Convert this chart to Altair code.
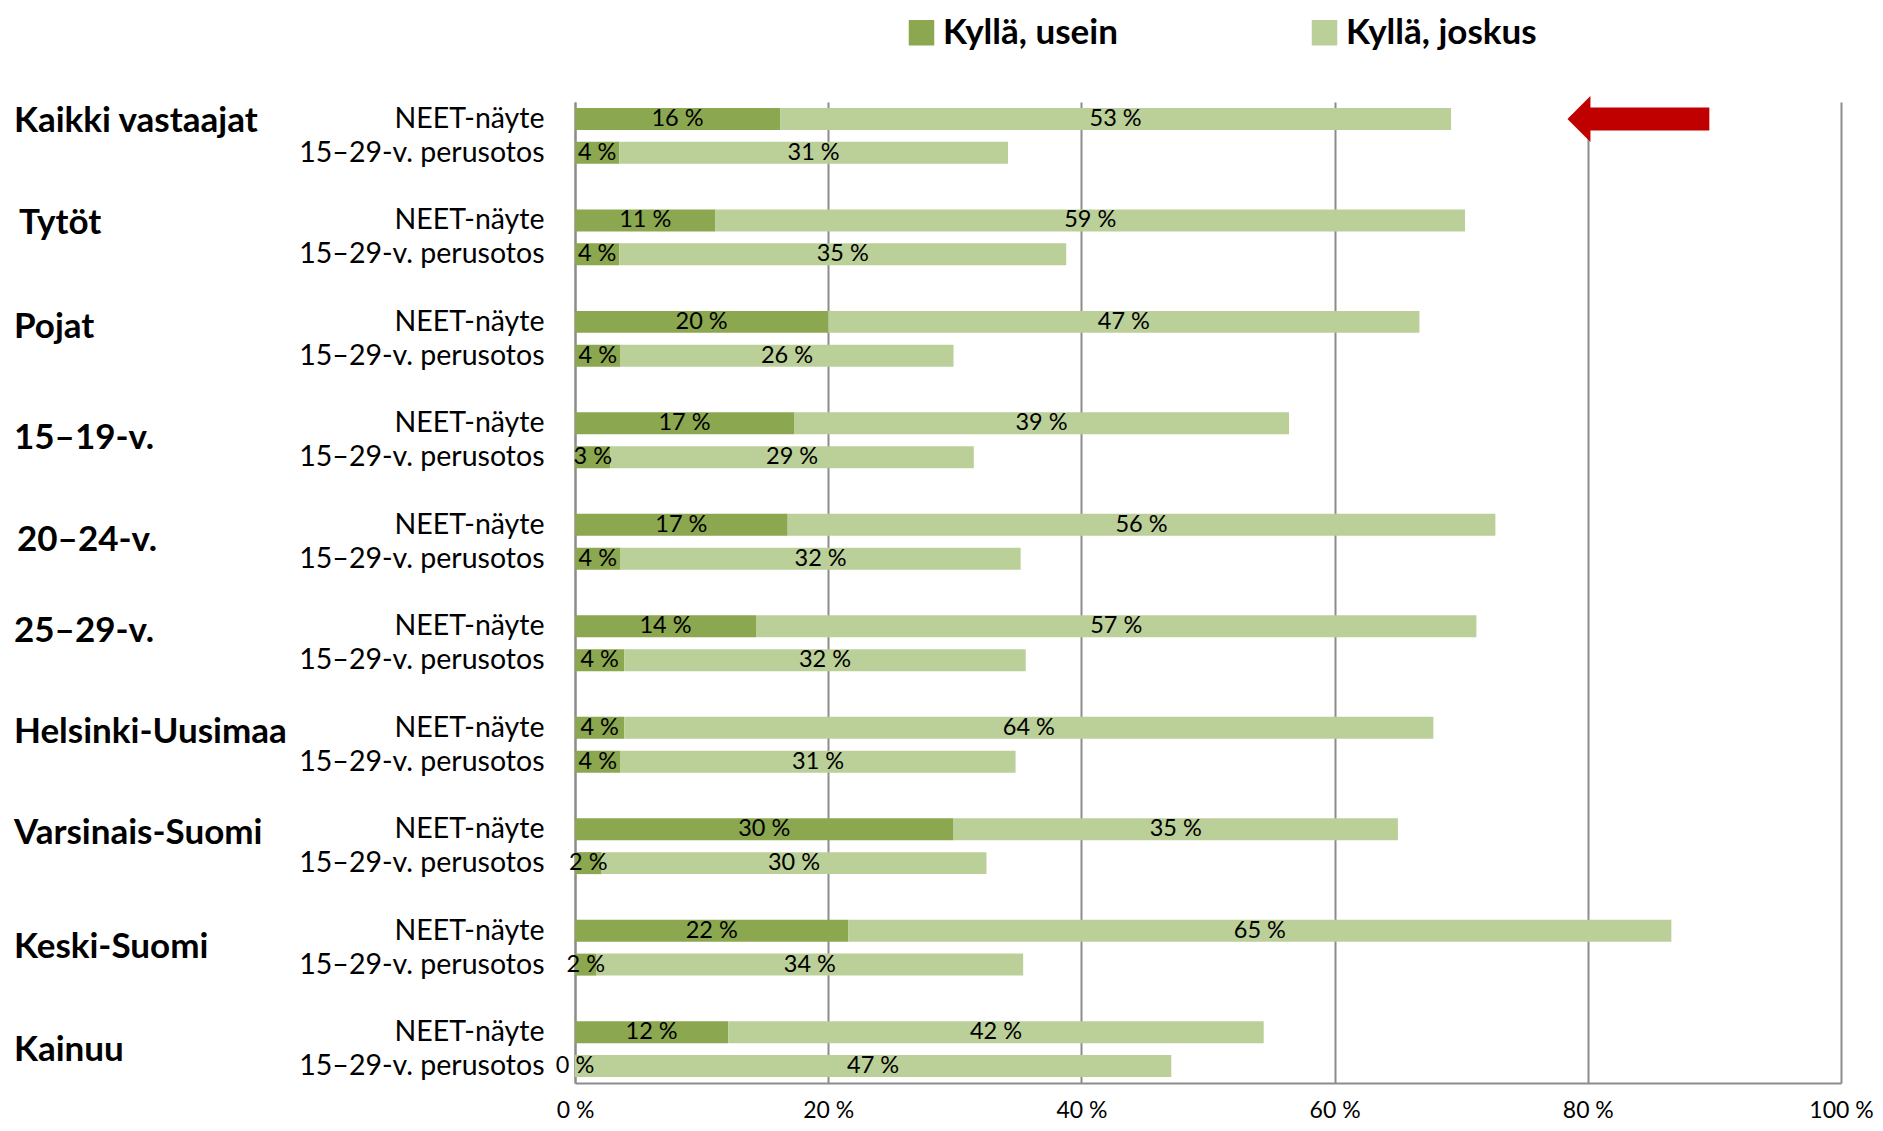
import altair as alt
import pandas as pd

# ---- data ----
groups = ["Kaikki vastaajat", "Tytöt", "Pojat", "15–19-v.", "20–24-v.", "25–29-v.",
          "Helsinki-Uusimaa", "Varsinais-Suomi", "Keski-Suomi", "Kainuu"]
samples = ["NEET-näyte", "15–29-v. perusotos"]
series = ["Kyllä, usein", "Kyllä, joskus"]
neet_usein = [16.2, 11.1, 20.0, 17.3, 16.8, 14.3, 3.9, 29.9, 21.6, 12.1]
neet_joskus = [53.0, 59.2, 46.7, 39.1, 55.9, 56.9, 63.9, 35.1, 65.0, 42.3]
base_usein = [3.5, 3.5, 3.6, 2.8, 3.6, 3.9, 3.6, 2.1, 1.7, 0.0]
base_joskus = [30.7, 35.3, 26.3, 28.7, 31.6, 31.7, 31.2, 30.4, 33.7, 47.1]
x_ticks = [0, 20, 40, 60, 80, 100]

# ---- styles ----
DARK = "#8BA74F"
LIGHT = "#BBCF98"
RED = "#C00000"
GRID = "#8C8C8C"
FONT = "Lato"
group_label_dy = [2, 3, 5, 15, 15, 5, 4, 4, 16, 18]
group_label_dx = [0, 5, 0, 0, 3, 0, 0, 0, 0, 0]
arrow_head_x = 79.3
arrow_shaft = (80.0, 89.6)

# ---- build table ----
row_domain = []
records = []
for i, g in enumerate(groups):
    vals = {samples[0]: (neet_usein[i], neet_joskus[i]),
            samples[1]: (base_usein[i], base_joskus[i])}
    for s in samples:
        key = f"{i}|{s}"
        row_domain.append(key)
        for k, ser in enumerate(series):
            records.append({"group": g, "row": key, "series": ser, "order": k,
                            "value": vals[s][k]})
    if i < len(groups) - 1:
        row_domain.append(f"{i}|")
df = pd.DataFrame(records)

y_scale = alt.Scale(domain=row_domain, paddingInner=0.35, paddingOuter=0.175)

base = alt.Chart(df)

bars = base.mark_bar().encode(
    y=alt.Y("row:N", scale=y_scale, sort=None,
            axis=alt.Axis(title=None, labelExpr="split(datum.value, '|')[1]",
                          labelFont=FONT, labelFontSize=28.5, labelColor="black",
                          ticks=False, labelPadding=31, labelLimit=400,
                          labelOverlap=False, domainColor=GRID, domainWidth=2,
                          grid=False)),
    x=alt.X("value:Q", stack="zero", scale=alt.Scale(domain=[0, 100], nice=False),
            axis=alt.Axis(title=None, values=x_ticks, labelExpr="datum.value + ' %'",
                          labelFont=FONT, labelFontSize=23, labelColor="black",
                          labelFlush=False, ticks=False, labelPadding=16,
                          grid=True, gridColor=GRID, gridWidth=2,
                          domainColor=GRID, domainWidth=2)),
    color=alt.Color("series:N", scale=alt.Scale(domain=series, range=[DARK, LIGHT]),
                    legend=alt.Legend(orient="none", legendX=329, legendY=-87,
                                      direction="horizontal", title=None,
                                      symbolType="square", symbolSize=650,
                                      symbolStrokeWidth=0, labelFont=FONT,
                                      labelFontWeight="bold", labelFontSize=35,
                                      labelColor="black", labelOffset=4,
                                      labelLimit=500, columnPadding=189)),
    order=alt.Order("order:Q"),
)

labels = base.transform_stack(
    stack="value", groupby=["row"], as_=["x0", "x1"],
    sort=[alt.SortField("order")]
).transform_calculate(
    mid="(datum.x0 + datum.x1) / 2",
    label="format(datum.value, '.0f') + ' %'"
).mark_text(font=FONT, fontSize=23.5, color="black", baseline="middle").encode(
    x=alt.X("mid:Q", title=None),
    y=alt.Y("row:N", sort=None),
    text="label:N",
)

layers = [bars, labels]

for i, g in enumerate(groups):
    gl = alt.Chart(pd.DataFrame({"row": [f"{i}|{samples[0]}"], "g": [g]})).mark_text(
        align="left", baseline="middle", font=FONT, fontWeight="bold",
        fontSize=35, color="black", dy=group_label_dy[i], dx=group_label_dx[i]
    ).encode(
        x=alt.value(-561),
        y=alt.Y("row:N", sort=None),
        text="g:N",
    )
    layers.append(gl)

arrow_df = pd.DataFrame({"row": [f"0|{samples[0]}"], "x": [arrow_shaft[0]],
                         "x2": [arrow_shaft[1]], "hx": [arrow_head_x]})
shaft = alt.Chart(arrow_df).mark_rule(color=RED, strokeWidth=23).encode(
    x=alt.X("x:Q", title=None), x2="x2:Q", y=alt.Y("row:N", sort=None))
head = alt.Chart(arrow_df).mark_point(
    shape="M 0.5 -1 L -0.5 0 L 0.5 1 Z", filled=True, size=2116, color=RED,
    opacity=1, strokeWidth=0
).encode(x=alt.X("hx:Q", title=None), y=alt.Y("row:N", sort=None))
layers += [shaft, head]

chart = alt.layer(*layers).properties(
    width=1266, height=981,
    autosize=alt.AutoSizeParams(type="none"),
    padding={"left": 567, "top": 94, "right": 34, "bottom": 40},
).configure(font=FONT).configure_view(strokeWidth=0)

chart.save("out.html", embed_options={"renderer": "svg", "actions": False})
